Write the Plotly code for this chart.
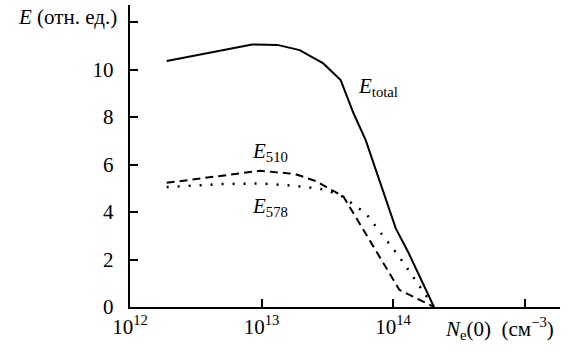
import plotly.graph_objects as go

# Data
ne_total = [1.9e12, 8.5e12, 1.32e13, 1.95e13, 2.95e13, 4.0e13, 5.0e13, 6.2e13, 1.05e14, 1.3e14, 2.05e14]
e_total = [10.36, 11.06, 11.04, 10.82, 10.26, 9.56, 8.17, 7.03, 3.31, 2.33, 0.0]

ne_510 = [1.9e12, 9.8e12, 1.8e13, 2.6e13, 4.2e13, 1.12e14, 2.05e14]
e_510 = [5.23, 5.74, 5.6, 5.3, 4.65, 0.72, 0.0]

ne_578 = [1.9e12, 5.0e12, 1.0e13, 1.85e13, 3.0e13, 4.0e13, 6.2e13, 1.12e14, 2.05e14]
e_578 = [5.05, 5.18, 5.2, 5.1, 4.95, 4.7, 3.95, 2.1, 0.0]

x_tickvals = [1e12, 1e13, 1e14, 1e15]
x_ticktext = ["10<sup>12</sup>", "10<sup>13</sup>", "10<sup>14</sup>", ""]
y_tickvals = [0, 2, 4, 6, 8, 10, 12]
y_ticktext = ["0\u2002", "2\u2002", "4\u2002", "6\u2002", "8\u2002", "10\u2002", ""]

SERIF = "Liberation Serif"

fig = go.Figure()
fig.add_trace(go.Scatter(x=ne_total, y=e_total, mode="lines",
                         line=dict(color="black", width=2)))
fig.add_trace(go.Scatter(x=ne_510, y=e_510, mode="lines",
                         line=dict(color="black", width=2, dash="8px,5px")))
fig.add_trace(go.Scatter(x=ne_578, y=e_578, mode="lines",
                         line=dict(color="black", width=2.5, dash="2px,9px")))

fig.update_layout(
    width=568, height=347,
    margin=dict(l=130, r=8, t=5, b=40),
    paper_bgcolor="white", plot_bgcolor="white",
    showlegend=False,
    font=dict(family=SERIF, size=21, color="black"),
    xaxis=dict(type="log", range=[12, 15.27], tickvals=x_tickvals, ticktext=x_ticktext,
               showgrid=False, zeroline=False, showline=True, linecolor="black", linewidth=1.5,
               ticks="inside", ticklen=8, tickwidth=1.5, tickcolor="black"),
    yaxis=dict(range=[0, 12.72], tickvals=y_tickvals, ticktext=y_ticktext,
               showgrid=False, zeroline=False, showline=True, linecolor="black", linewidth=1.5,
               ticks="inside", ticklen=8, tickwidth=1.5, tickcolor="black"),
)

fig.add_annotation(xref="paper", yref="paper", x=0, xshift=-11, y=0.96,
                   xanchor="right", yanchor="middle", showarrow=False,
                   text="<i>E</i> (отн. ед.)")
fig.add_annotation(xref="paper", yref="paper", x=1, xshift=-4, y=0, yshift=-21,
                   xanchor="right", yanchor="middle", showarrow=False,
                   text="<i>N</i><sub>e</sub>(0)  (см<sup>−3</sup>)")
fig.add_annotation(x=13.72, y=9.26, xanchor="left", yanchor="middle", showarrow=False,
                   text="<i>E</i><sub>total</sub>", font=dict(size=21))
fig.add_annotation(x=12.91, y=6.53, xanchor="left", yanchor="middle", showarrow=False,
                   text="<i>E</i><sub>510</sub>", font=dict(size=21))
fig.add_annotation(x=12.91, y=4.21, xanchor="left", yanchor="middle", showarrow=False,
                   text="<i>E</i><sub>578</sub>", font=dict(size=21))

fig.write_html("out.html")
